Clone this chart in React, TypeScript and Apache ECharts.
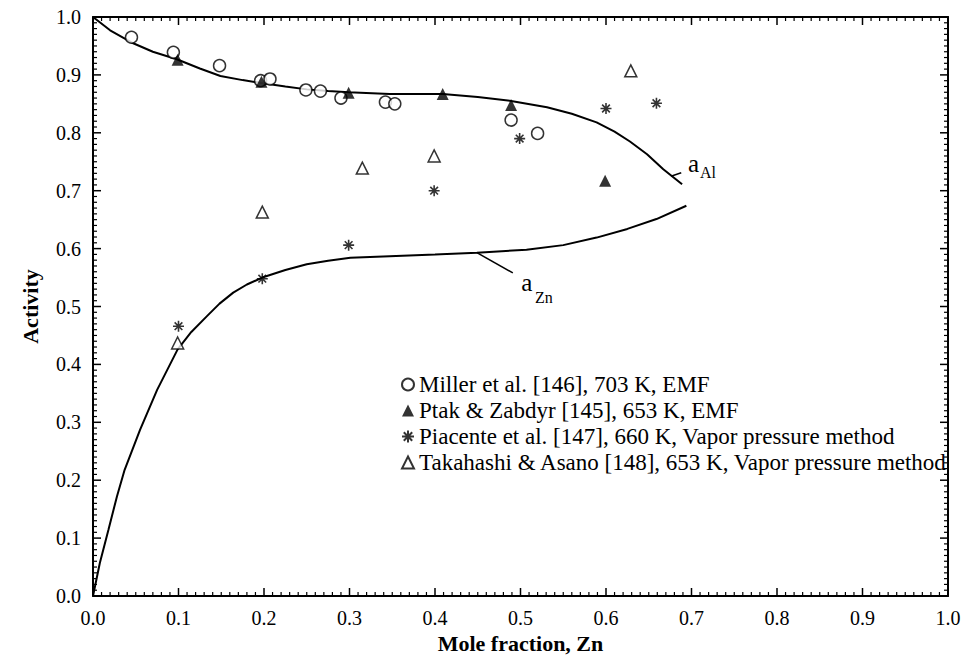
import React, { useEffect, useRef } from "react";
import * as echarts from "echarts";

// ---- data ----
const millerX = [0.045, 0.094, 0.148, 0.196, 0.207, 0.249, 0.266, 0.29, 0.342, 0.353, 0.489, 0.52];
const millerY = [0.965, 0.939, 0.916, 0.89, 0.893, 0.874, 0.872, 0.86, 0.853, 0.85, 0.822, 0.799];

const ptakX = [0.099, 0.197, 0.299, 0.409, 0.489, 0.599];
const ptakY = [0.926, 0.888, 0.869, 0.867, 0.848, 0.717];

const piacenteX = [0.1, 0.198, 0.299, 0.399, 0.499, 0.6, 0.659];
const piacenteY = [0.466, 0.548, 0.606, 0.7, 0.79, 0.842, 0.851];

const takahashiX = [0.099, 0.198, 0.315, 0.399, 0.629];
const takahashiY = [0.437, 0.663, 0.739, 0.76, 0.907];

const aAlX = [0, 0.02, 0.045, 0.07, 0.098, 0.125, 0.149, 0.175, 0.197, 0.225, 0.25, 0.275, 0.299, 0.347, 0.409, 0.45, 0.489, 0.531, 0.56, 0.589, 0.61, 0.628, 0.648, 0.667, 0.689];
const aAlY = [1.0, 0.977, 0.956, 0.94, 0.927, 0.911, 0.898, 0.891, 0.886, 0.88, 0.875, 0.872, 0.87, 0.867, 0.867, 0.862, 0.855, 0.844, 0.833, 0.818, 0.802, 0.785, 0.763, 0.737, 0.711];

const aZnX = [0, 0.008, 0.018, 0.028, 0.037, 0.055, 0.075, 0.099, 0.115, 0.133, 0.148, 0.164, 0.18, 0.198, 0.225, 0.25, 0.275, 0.301, 0.347, 0.4, 0.449, 0.507, 0.55, 0.589, 0.625, 0.659, 0.694];
const aZnY = [0, 0.057, 0.114, 0.172, 0.218, 0.287, 0.356, 0.426, 0.456, 0.483, 0.505, 0.524, 0.538, 0.55, 0.563, 0.573, 0.579, 0.584, 0.587, 0.59, 0.593, 0.598, 0.606, 0.619, 0.634, 0.651, 0.674];

const alLeaderX = [0.676, 0.688];
const alLeaderY = [0.725, 0.731];
const znLeaderX = [0.449, 0.491];
const znLeaderY = [0.593, 0.558];

// axis tick values (shared by both axes): majors, each split into 10 minor steps
const majorTicks = [0, 0.1, 0.2, 0.3, 0.4, 0.5, 0.6, 0.7, 0.8, 0.9, 1.0];
const minorPerMajor = 10;

const legendNames = [
  "Miller et al. [146], 703 K, EMF",
  "Ptak & Zabdyr [145], 653 K, EMF",
  "Piacente et al. [147], 660 K, Vapor pressure method",
  "Takahashi & Asano [148], 653 K, Vapor pressure method",
];

const xTitle = "Mole fraction, Zn";
const yTitle = "Activity";

const FONT = "Liberation Serif";
const pairs = (xs: number[], ys: number[]) => xs.map((x, i) => [x, ys[i]]);
const STAR = "path://M5 0L5 10M0 5L10 5M1.5 1.5L8.5 8.5M8.5 1.5L1.5 8.5";

// tick records: [value, side (0 bottom, 1 top, 2 left, 3 right), length]
const tickData: number[][] = [];
for (let s = 0; s < 4; s++) {
  majorTicks.forEach((v, i) => {
    tickData.push([v, s, 8]);
    if (i < majorTicks.length - 1) {
      const step = (majorTicks[i + 1] - v) / minorPerMajor;
      for (let k = 1; k < minorPerMajor; k++) tickData.push([v + k * step, s, 4]);
    }
  });
}

const makeAxis = (position: string, withLabels: boolean, extra: any = {}) => ({
  type: "value",
  position,
  min: 0,
  max: 1,
  interval: 0.1,
  splitLine: { show: false },
  axisLine: { show: true, onZero: false, lineStyle: { color: "#000", width: 2 } },
  axisTick: { show: false },
  minorTick: { show: false },
  axisLabel: withLabels
    ? {
        show: true,
        color: "#000",
        fontFamily: FONT,
        fontSize: 20,
        margin: 12,
        formatter: (v: number) => v.toFixed(1),
      }
    : { show: false },
  ...extra,
});

export default function App() {
  const ref = useRef<HTMLDivElement>(null);
  useEffect(() => {
    if (!ref.current) return;
    document.body.style.margin = "0";
    const chart = echarts.init(ref.current, undefined, { renderer: "svg" });
    chart.setOption({
      animation: false,
      backgroundColor: "#fff",
      textStyle: { fontFamily: FONT },
      grid: { left: 93, right: 19, top: 17, bottom: 65 },
      legend: {
        orient: "vertical",
        left: 396,
        top: 368,
        itemWidth: 12,
        itemHeight: 12,
        itemGap: 3,
        selectedMode: false,
        data: legendNames,
        textStyle: { color: "#000", fontFamily: FONT, fontSize: 23 },
      },
      xAxis: [
        makeAxis("bottom", true, {
          name: xTitle,
          nameLocation: "middle",
          nameGap: 36,
          nameTextStyle: { color: "#000", fontFamily: FONT, fontSize: 22, fontWeight: "bold" },
        }),
        makeAxis("top", false),
      ],
      yAxis: [
        makeAxis("left", true, {
          name: yTitle,
          nameLocation: "middle",
          nameGap: 52,
          nameTextStyle: { color: "#000", fontFamily: FONT, fontSize: 22, fontWeight: "bold" },
        }),
        makeAxis("right", false),
      ],
      series: [
        {
          type: "custom",
          name: "ticks",
          data: tickData,
          clip: false,
          silent: true,
          z: 4,
          renderItem: (params: any, api: any) => {
            const v = api.value(0);
            const side = api.value(1);
            const len = api.value(2);
            let p: number[];
            let x2: number;
            let y2: number;
            if (side === 0) {
              p = api.coord([v, 0]);
              x2 = p[0];
              y2 = p[1] - len;
            } else if (side === 1) {
              p = api.coord([v, 1]);
              x2 = p[0];
              y2 = p[1] + len;
            } else if (side === 2) {
              p = api.coord([0, v]);
              x2 = p[0] + len;
              y2 = p[1];
            } else {
              p = api.coord([1, v]);
              x2 = p[0] - len;
              y2 = p[1];
            }
            return {
              type: "line",
              shape: { x1: p[0], y1: p[1], x2, y2 },
              style: { stroke: "#000", lineWidth: len > 5 ? 1.5 : 1.2 },
            };
          },
        },
        { type: "line", name: "a_Al", data: pairs(aAlX, aAlY), showSymbol: false, lineStyle: { color: "#000", width: 2 }, z: 2 },
        { type: "line", name: "a_Zn", data: pairs(aZnX, aZnY), showSymbol: false, lineStyle: { color: "#000", width: 2 }, z: 2 },
        { type: "line", name: "leaderAl", data: pairs(alLeaderX, alLeaderY), showSymbol: false, lineStyle: { color: "#000", width: 1.5 }, z: 2 },
        { type: "line", name: "leaderZn", data: pairs(znLeaderX, znLeaderY), showSymbol: false, lineStyle: { color: "#000", width: 1.5 }, z: 2 },
        {
          type: "scatter",
          name: legendNames[0],
          data: pairs(millerX, millerY),
          symbol: "circle",
          symbolSize: 12,
          itemStyle: { color: "#fff", borderColor: "#000", borderWidth: 1.5 },
          z: 3,
        },
        {
          type: "scatter",
          name: legendNames[1],
          data: pairs(ptakX, ptakY),
          symbol: "triangle",
          symbolSize: 12,
          itemStyle: { color: "#000" },
          z: 3,
        },
        {
          type: "scatter",
          name: legendNames[2],
          data: pairs(piacenteX, piacenteY),
          symbol: STAR,
          symbolSize: 11,
          itemStyle: { color: "transparent", borderColor: "#000", borderWidth: 1.6 },
          z: 3,
        },
        {
          type: "scatter",
          name: legendNames[3],
          data: pairs(takahashiX, takahashiY),
          symbol: "triangle",
          symbolSize: 12,
          itemStyle: { color: "#fff", borderColor: "#000", borderWidth: 1.5 },
          z: 3,
        },
      ],
    });

    const px = (x: number, y: number) =>
      chart.convertToPixel({ xAxisIndex: 0, yAxisIndex: 0 }, [x, y]) as number[];
    const mk = (text: string, x: number, y: number, size: number) => {
      const p = px(x, y);
      return {
        type: "text",
        x: p[0],
        y: p[1] + size * 0.22,
        z: 10,
        style: {
          text,
          fill: "#000",
          fontFamily: FONT,
          fontSize: size,
          align: "left",
          verticalAlign: "bottom",
        },
      };
    };
    chart.setOption({
      graphic: [
        mk("a", 0.696, 0.735, 25),
        mk("Al", 0.71, 0.723, 16),
        mk("a", 0.501, 0.529, 25),
        mk("Zn", 0.517, 0.507, 16),
      ],
    });
    return () => chart.dispose();
  }, []);
  return <div ref={ref} style={{ width: 967, height: 661 }} />;
}
